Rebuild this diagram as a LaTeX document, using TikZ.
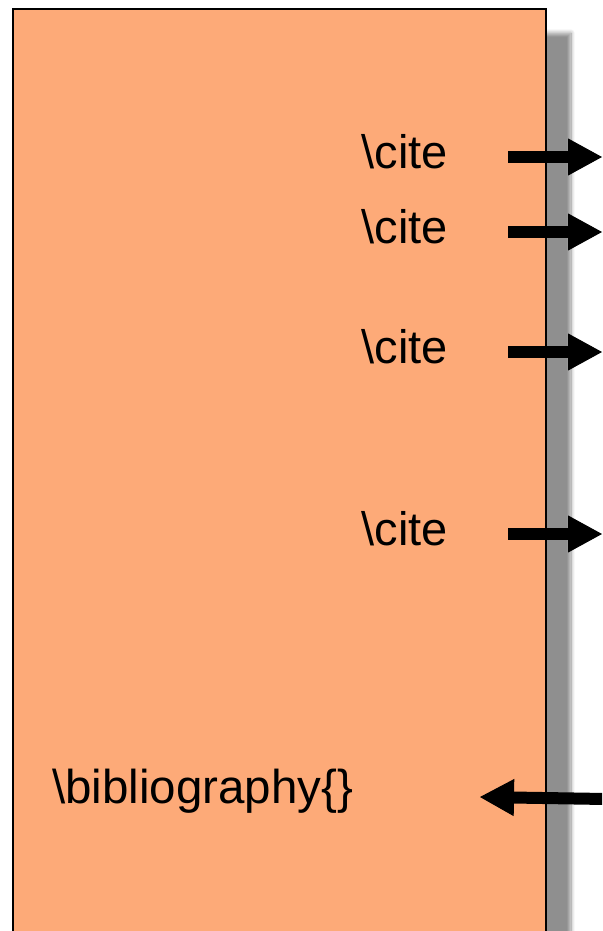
\documentclass[tikz,border=0pt]{standalone}
\usepackage{fontspec}
\setmainfont{Liberation Sans}
\usetikzlibrary{arrows.meta,shadows.blur}
\definecolor{pagefill}{RGB}{253,170,120}
\tikzset{
  page/.style={fill=pagefill, draw=black, line width=2pt,
    blur shadow={shadow xshift=25pt, shadow yshift=-24pt, shadow blur radius=4pt, shadow opacity=44, shadow blur steps=10}},
  cmd/.style={inner sep=0pt, font=\fontsize{47}{52}\selectfont},
  fat/.style={black, line width=12pt, -{Triangle[length=34pt,width=37pt,line width=1pt,color=black,fill=black]}}
}
\begin{document}
\begin{tikzpicture}[x=1pt,y=-1pt]
\useasboundingbox (0,0) rectangle (602,931);
\clip (0,0) rectangle (602,931);
\path[page] (13,9) rectangle (546,1000);
\node[cmd, anchor=base east] (c1) at (448,168) {\textbackslash cite};
\node[cmd, anchor=base east] (c2) at (448,243) {\textbackslash cite};
\node[cmd, anchor=base east] (c3) at (448,363) {\textbackslash cite};
\node[cmd, anchor=base east] (c4) at (448,545) {\textbackslash cite};
\node[cmd, anchor=base west, font=\fontsize{47.5}{52}\selectfont] (bib) at (52,803) {\textbackslash bibliography\{\}};
\coordinate (s1) at (508,157); \coordinate (e1) at (602,157);
\coordinate (s2) at (508,232); \coordinate (e2) at (602,232);
\coordinate (s3) at (508,352); \coordinate (e3) at (602,352);
\coordinate (s4) at (508,534); \coordinate (e4) at (602,534);
\coordinate (bs) at (606,799); \coordinate (be) at (480,797);
\draw[fat] (s1) -- (e1);
\draw[fat] (s2) -- (e2);
\draw[fat] (s3) -- (e3);
\draw[fat] (s4) -- (e4);
\draw[fat] (bs) -- (be);
\end{tikzpicture}
\end{document}
